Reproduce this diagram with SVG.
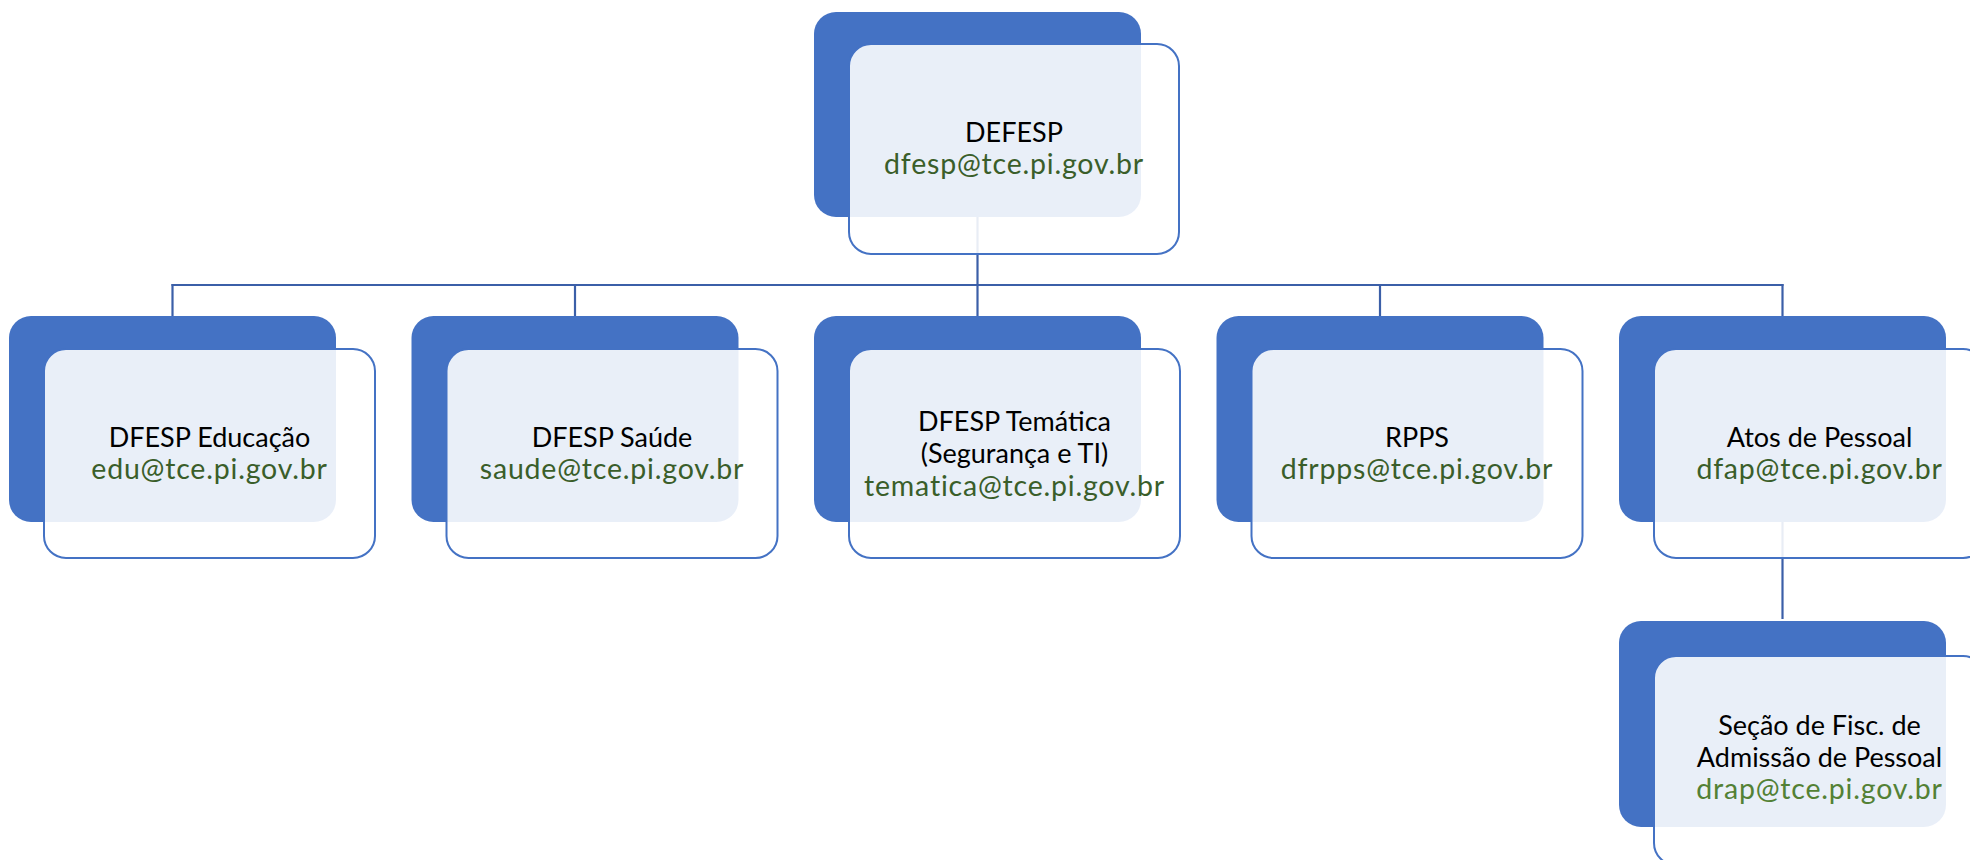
<svg xmlns="http://www.w3.org/2000/svg" width="1970" height="860" viewBox="0 0 1970 860">
<style>
.bg{fill:#4472C4}
.fr{fill:#FFFFFF;fill-opacity:0.885;stroke:#4472C4;stroke-width:2}
.t{font-family:Lato,"Liberation Sans",sans-serif;font-size:27px;text-anchor:middle;fill:#000000}
.e{fill:#3A5E2A;font-size:28.5px;letter-spacing:0.8px}
.e2{fill:#538135;font-size:28.5px;letter-spacing:0.8px}
.c{stroke:#3B5FA8;stroke-width:2.2;fill:none}
</style>
<rect width="1970" height="860" fill="#FFFFFF"/>
<g id="connectors">
<line class="c" x1="977.5" y1="217" x2="977.5" y2="285"/>
<line class="c" x1="171.5" y1="285" x2="1783.5" y2="285"/>
<line class="c" x1="172.5" y1="284" x2="172.5" y2="316"/>
<line class="c" x1="575" y1="284" x2="575" y2="316"/>
<line class="c" x1="977.5" y1="284" x2="977.5" y2="316"/>
<line class="c" x1="1380" y1="284" x2="1380" y2="316"/>
<line class="c" x1="1782.5" y1="284" x2="1782.5" y2="316"/>
<line class="c" x1="1782.5" y1="522" x2="1782.5" y2="619"/>
</g>
<g id="node-defesp">
<rect class="bg" x="814" y="12" width="327" height="205" rx="22"/>
<rect class="fr" x="849" y="44" width="330" height="210" rx="22"/>
<text class="t" x="1014" y="142">DEFESP</text>
<text class="t e" x="1014" y="174">dfesp@tce.pi.gov.br</text>
</g>
<g id="node-educacao">
<rect class="bg" x="9" y="316" width="327" height="206" rx="22"/>
<rect class="fr" x="44" y="349" width="331" height="209" rx="22"/>
<text class="t" x="209.5" y="447">DFESP Educação</text>
<text class="t e" x="209.5" y="479">edu@tce.pi.gov.br</text>
</g>
<g id="node-saude">
<rect class="bg" x="411.5" y="316" width="327" height="206" rx="22"/>
<rect class="fr" x="446.5" y="349" width="331" height="209" rx="22"/>
<text class="t" x="612" y="447">DFESP Saúde</text>
<text class="t e" x="612" y="479">saude@tce.pi.gov.br</text>
</g>
<g id="node-tematica">
<rect class="bg" x="814" y="316" width="327" height="206" rx="22"/>
<rect class="fr" x="849" y="349" width="331" height="209" rx="22"/>
<text class="t" x="1014.5" y="431">DFESP Temática</text>
<text class="t" x="1014.5" y="463">(Segurança e TI)</text>
<text class="t e" x="1014.5" y="496">tematica@tce.pi.gov.br</text>
</g>
<g id="node-rpps">
<rect class="bg" x="1216.5" y="316" width="327" height="206" rx="22"/>
<rect class="fr" x="1251.5" y="349" width="331" height="209" rx="22"/>
<text class="t" x="1417" y="447">RPPS</text>
<text class="t e" x="1417" y="479">dfrpps@tce.pi.gov.br</text>
</g>
<g id="node-atos">
<rect class="bg" x="1619" y="316" width="327" height="206" rx="22"/>
<rect class="fr" x="1654" y="349" width="331" height="209" rx="22"/>
<text class="t" x="1819.5" y="447">Atos de Pessoal</text>
<text class="t e" x="1819.5" y="479">dfap@tce.pi.gov.br</text>
</g>
<g id="node-secao">
<rect class="bg" x="1619" y="621" width="327" height="206" rx="22"/>
<rect class="fr" x="1654" y="656" width="331" height="209" rx="22"/>
<text class="t" x="1819.5" y="735">Seção de Fisc. de</text>
<text class="t" x="1819.5" y="767">Admissão de Pessoal</text>
<text class="t e2" x="1819.5" y="799">drap@tce.pi.gov.br</text>
</g>
</svg>
